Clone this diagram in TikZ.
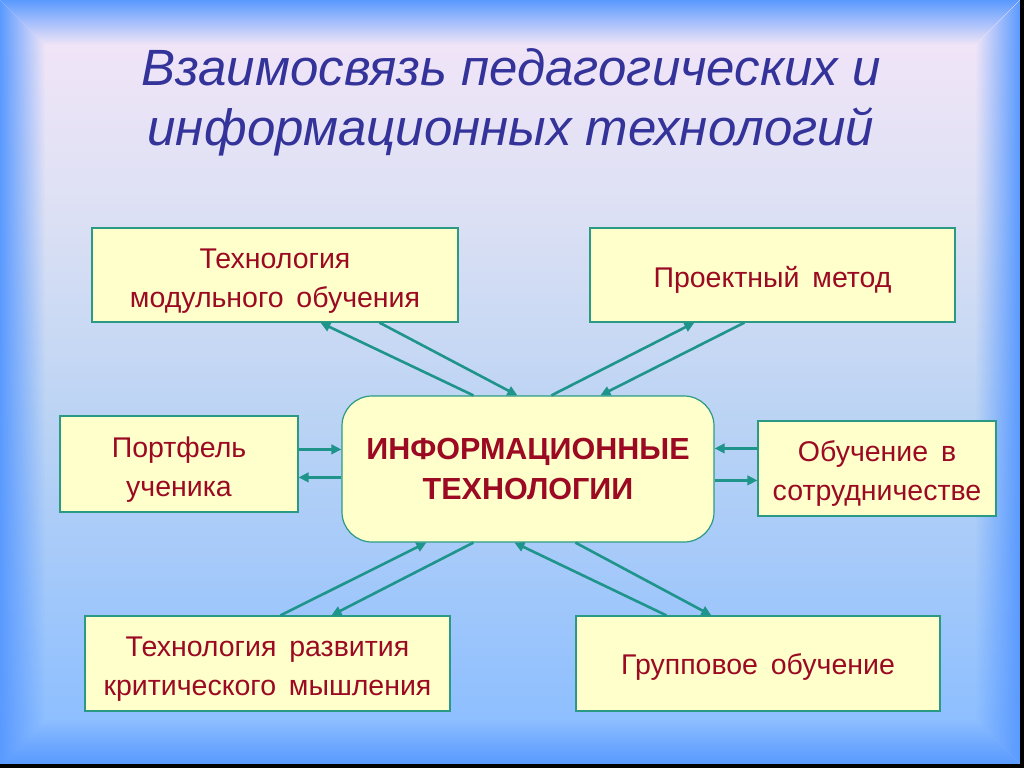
\documentclass[tikz,border=0pt]{standalone}
\usepackage{fontspec}
\setmainfont{Liberation Sans}
\usetikzlibrary{arrows.meta,fadings}
\definecolor{frameblue}{HTML}{5A9AFF}
\definecolor{bgA}{HTML}{68A6FF}
\definecolor{bgB}{HTML}{8EBFFF}
\definecolor{bgC}{HTML}{BCD4F4}
\definecolor{bgD}{HTML}{DCE0F4}
\definecolor{bgE}{HTML}{F6E6F8}
\definecolor{bgF}{HTML}{FDE6F5}
\definecolor{titleblue}{HTML}{33339A}
\definecolor{txtred}{HTML}{9B0A22}
\definecolor{boxfill}{HTML}{FFFFCC}
\definecolor{boxline}{HTML}{2A9A84}
\definecolor{arrteal}{HTML}{1E948A}
\pgfdeclareverticalshading{bgsh}{100bp}{color(0bp)=(bgA); color(6bp)=(bgA); color(28bp)=(bgB); color(48bp)=(bgC); color(61bp)=(bgD); color(75bp)=(bgE); color(100bp)=(bgF)}
\tikzfading[name=fromleft, left color=transparent!0, middle color=transparent!45, right color=transparent!100]
\tikzfading[name=fromright, right color=transparent!0, middle color=transparent!45, left color=transparent!100]
\tikzfading[name=fromtop, top color=transparent!0, middle color=transparent!45, bottom color=transparent!100]
\tikzfading[name=frombottom, bottom color=transparent!0, middle color=transparent!45, top color=transparent!100]
\newcommand{\gap}{\hspace{0.45em}}
\newcommand{\topstrut}{\rule{0pt}{31pt}}
\newcommand{\botstrut}{\rule[-6pt]{0pt}{6pt}}
\tikzset{
  box/.style={draw=boxline, line width=1.2pt, fill=boxfill, text=txtred, align=center,
    font=\fontsize{28.5}{39}\selectfont, inner sep=0pt},
  link/.style={draw=arrteal, line width=2.6pt, -{Triangle[length=10pt,width=9.5pt]}},
}
\begin{document}
\begin{tikzpicture}[x=1pt,y=-1pt]
\useasboundingbox (0,0) rectangle (1024,768);
% background
\shade[shading=bgsh] (0,0) rectangle (1020,764);
\fill[frameblue, path fading=fromleft] (0,0) -- (45,45) -- (45,719) -- (0,764) -- cycle;
\fill[frameblue, path fading=fromright] (1020,0) -- (975,45) -- (975,719) -- (1020,764) -- cycle;
\fill[frameblue, path fading=fromtop] (0,0) -- (1020,0) -- (975,45) -- (45,45) -- cycle;
\fill[frameblue, path fading=frombottom] (0,764) -- (1020,764) -- (975,719) -- (45,719) -- cycle;
\fill[black] (1020,0) rectangle (1024,768);
\fill[black] (0,764) rectangle (1024,768);
% title
\node[text=titleblue, align=center, font=\fontsize{51}{60}\selectfont\itshape] (title) at (511,102)
  {Взаимосвязь педагогических и\\информационных технологий};
% boxes
\node[box, minimum width=366pt, minimum height=94pt] (tl) at (275,275) {\topstrut Технология\\модульного\gap обучения\botstrut};
\node[box, minimum width=365pt, minimum height=94pt] (tr) at (772.5,275) {\topstrut Проектный\gap метод\botstrut};
\node[box, minimum width=238pt, minimum height=96pt] (ml) at (179,464) {\topstrut Портфель\\ученика\botstrut};
\node[box, minimum width=238pt, minimum height=95pt] (mr) at (877,468.5) {\topstrut Обучение\gap в\\сотрудничестве\botstrut};
\node[box, minimum width=365pt, minimum height=95pt] (bl) at (267.5,663.5) {\topstrut Технология\gap развития\\критического\gap мышления\botstrut};
\node[box, minimum width=364pt, minimum height=95pt] (br) at (758,663.5) {\rule{0pt}{27pt}Групповое\gap обучение\botstrut};
\node[box, rounded corners=30pt, minimum width=372pt, minimum height=146pt,
  font=\fontsize{30.5}{40}\selectfont\bfseries] (c) at (528,469) {ИНФОРМАЦИОННЫЕ\\ТЕХНОЛОГИИ};
% arrows top-left
\draw[link] ([xshift=132pt]c.north west) -- ([xshift=229pt]tl.south west);
\draw[link] ([xshift=288pt]tl.south west) -- ([xshift=176pt]c.north west);
% top-right
\draw[link] ([xshift=210pt]c.north west) -- ([xshift=105pt]tr.south west);
\draw[link] ([xshift=155pt]tr.south west) -- ([xshift=259pt]c.north west);
% left
\draw[link] ([yshift=-34pt]ml.north east) -- ([yshift=-54pt]c.north west);
\draw[link] ([yshift=-82pt]c.north west) -- ([yshift=-62pt]ml.north east);
% right
\draw[link] ([yshift=-28pt]mr.north west) -- ([yshift=-53pt]c.north east);
\draw[link] ([yshift=-85pt]c.north east) -- ([yshift=-60pt]mr.north west);
% bottom-left
\draw[link] ([xshift=196pt]bl.north west) -- ([xshift=85pt]c.south west);
\draw[link] ([xshift=132pt]c.south west) -- ([xshift=247pt]bl.north west);
% bottom-right
\draw[link] ([xshift=91pt]br.north west) -- ([xshift=173pt]c.south west);
\draw[link] ([xshift=234pt]c.south west) -- ([xshift=136pt]br.north west);
\end{tikzpicture}
\end{document}
